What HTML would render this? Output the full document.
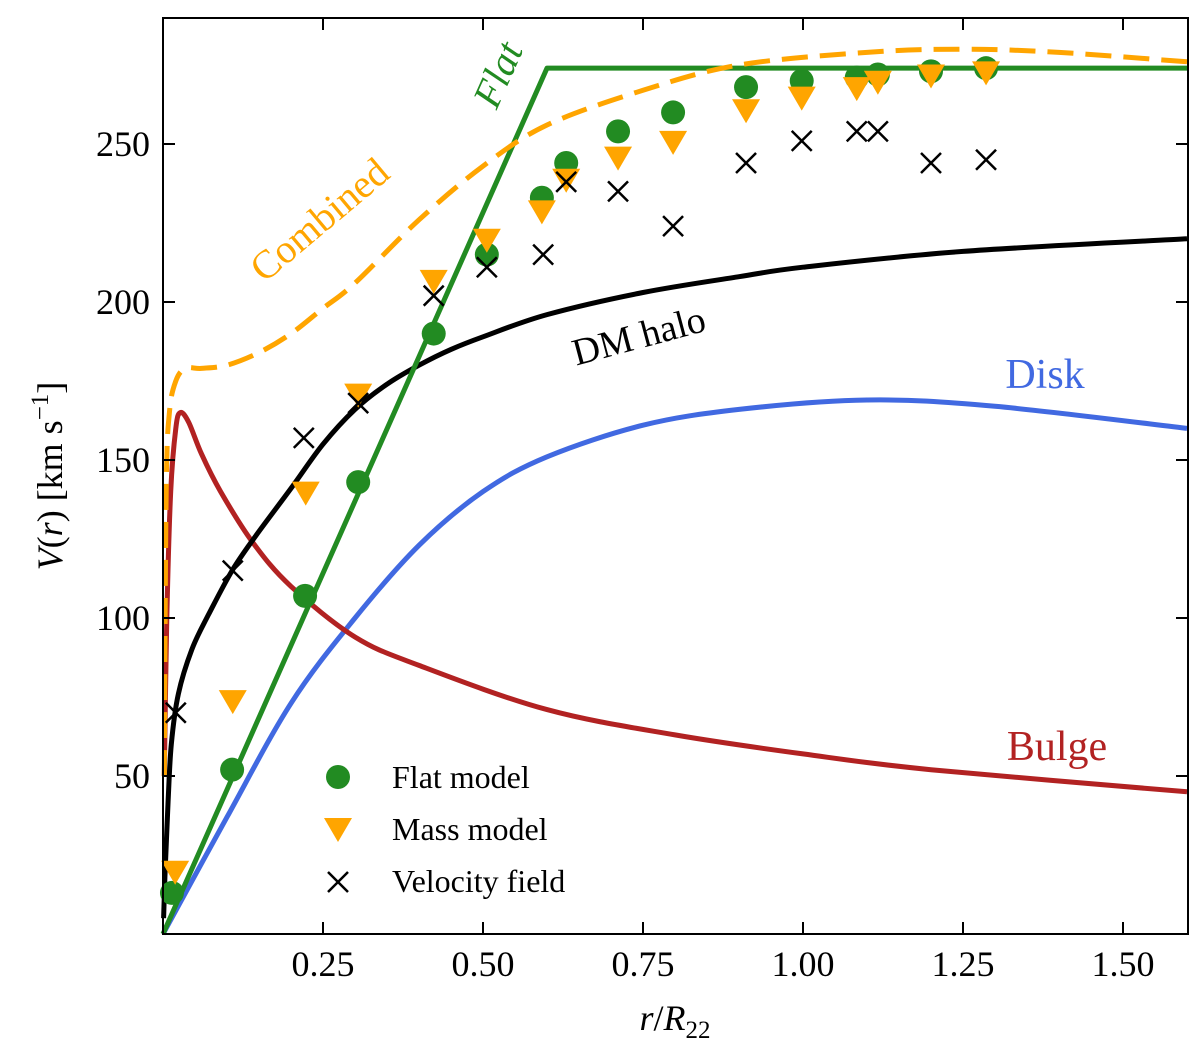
<!DOCTYPE html>
<html><head><meta charset="utf-8"><style>
body{margin:0;background:#fff}
svg{display:block;font-family:"Liberation Serif",serif}
</style></head><body>
<svg id="chart" width="1200" height="1044" viewBox="0 0 1200 1044" xmlns="http://www.w3.org/2000/svg">
<g id="curves"></g>
<g id="marks"></g>
<rect x="163" y="18" width="1025" height="916" fill="none" stroke="#000" stroke-width="2"/>
<g id="axes"></g>
<text x="675" y="1030" font-size="36" text-anchor="middle"><tspan font-style="italic">r</tspan>/<tspan font-style="italic">R</tspan><tspan font-size="25" dy="8">22</tspan></text>
<text transform="translate(62,476) rotate(-90)" font-size="36" text-anchor="middle"><tspan font-style="italic">V</tspan>(<tspan font-style="italic">r</tspan>) [km s<tspan font-size="25" dy="-14">−1</tspan><tspan dy="14">]</tspan></text>
<text transform="translate(510,80) rotate(-66)" font-size="40" fill="#228B22" font-style="italic" text-anchor="middle">Flat</text>
<text transform="translate(328,230) rotate(-40)" font-size="40" fill="#FFA500" text-anchor="middle">Combined</text>
<text transform="translate(642,348) rotate(-15)" font-size="38" fill="#000" text-anchor="middle">DM halo</text>
<text x="1045" y="388" font-size="42" fill="#4169E1" text-anchor="middle">Disk</text>
<text x="1057" y="760" font-size="42" fill="#B22222" text-anchor="middle">Bulge</text>
<g font-size="32">
<circle cx="338" cy="777" r="12" fill="#228B22"/>
<text x="392" y="788">Flat model</text>
<polygon points="324,818 352,818 338,842" fill="#FFA500"/>
<text x="392" y="840">Mass model</text>
<path d="M328,872 L348,892 M348,872 L328,892" stroke="#000" stroke-width="2.5"/>
<text x="392" y="892">Velocity field</text>
</g>
</svg>
<script>
const xTicks=[0.25,0.5,0.75,1.0,1.25,1.5];
const xTickLabels=["0.25","0.50","0.75","1.00","1.25","1.50"];
const yTicks=[50,100,150,200,250];
const yTickLabels=["50","100","150","200","250"];
const flatR=[0.014,0.108,0.222,0.305,0.423,0.506,0.592,0.63,0.711,0.797,0.911,0.998,1.084,1.117,1.2,1.286];
const flatV=[13,52,107,143,190,215,233,244,254,260,268,270,271,272,273,274];
const massR=[0.019,0.109,0.223,0.305,0.423,0.506,0.592,0.63,0.711,0.797,0.911,0.998,1.084,1.117,1.2,1.286];
const massV=[20,74,140,171,207,220,229,239,246,251,261,265,268,270,272,273];
const velR=[0.02,0.109,0.22,0.305,0.423,0.506,0.594,0.63,0.711,0.797,0.911,0.998,1.084,1.117,1.2,1.286];
const velV=[70,115,157,168,202,211,215,238,235,224,244,251,254,254,244,245];
const flatLineR=[0,0.6,1.6];
const flatLineV=[0,274,274];
const haloR=[0.001,0.003,0.008,0.013,0.024,0.045,0.071,0.108,0.145,0.2,0.25,0.3,0.35,0.4,0.45,0.5,0.6,0.75,0.9,1.0,1.25,1.6];
const haloV=[5,18,42,60,76,90,101,115,126,141,155,166,174,180,185,189,196,203,208,211,216,220];
const diskR=[0,0.1,0.2,0.3,0.4,0.5,0.6,0.75,0.9,1.1,1.3,1.6];
const diskV=[0,37,73,100,123,140,151,161,166,169,167,160];
const bulgeR=[0.002,0.006,0.012,0.02,0.027,0.04,0.06,0.09,0.14,0.2,0.3,0.4,0.6,0.8,1.0,1.2,1.6];
const bulgeV=[50,100,140,160,165,162,152,140,124,110,94,85,71,63,57,52,45];
const combR=[0.002,0.005,0.01,0.02,0.035,0.06,0.1,0.15,0.2,0.25,0.3,0.4,0.5,0.6,0.75,0.9,1.1,1.25,1.4,1.6];
const combV=[50,140,165,175,179,179,180,184,190,198,206,226,243,256,267,275,279,280,279,276];
const X=r=>163+r*640, Y=v=>934-v*3.16;
const NS="http://www.w3.org/2000/svg";
const mk=(t,a,p)=>{const e=document.createElementNS(NS,t);for(const k in a)e.setAttribute(k,a[k]);p.appendChild(e);return e;};
const curves=document.getElementById('curves'),marks=document.getElementById('marks'),axes=document.getElementById('axes');
function line(R,V,col,name,dash,straight){
 const P=R.map((r,i)=>[X(r),Y(V[i])]);
 let d='M'+P[0][0].toFixed(1)+','+P[0][1].toFixed(1);
 for(let i=0;i<P.length-1;i++){
  if(straight){d+='L'+P[i+1][0]+','+P[i+1][1];continue;}
  const p0=P[i-1]||P[i],p1=P[i],p2=P[i+1],p3=P[i+2]||p2;
  const c1=[p1[0]+(p2[0]-p0[0])/6,p1[1]+(p2[1]-p0[1])/6];
  const c2=[p2[0]-(p3[0]-p1[0])/6,p2[1]-(p3[1]-p1[1])/6];
  d+=`C${c1[0].toFixed(1)},${c1[1].toFixed(1)} ${c2[0].toFixed(1)},${c2[1].toFixed(1)} ${p2[0].toFixed(1)},${p2[1].toFixed(1)}`;
 }
 const p=mk('path',{d:d,fill:'none',stroke:col,'stroke-width':5,'stroke-linejoin':'round'},curves);
 if(dash)p.setAttribute('stroke-dasharray','26,12');
 
 
}
line(diskR,diskV,'#4169E1','disk-curve');
line(bulgeR,bulgeV,'#B22222','bulge-curve');
line(haloR,haloV,'#000','dm-halo-curve');
line(flatLineR,flatLineV,'#228B22','flat-curve',false,true);
line(combR,combV,'#FFA500','combined-curve',true);
flatR.forEach((r,i)=>{const c=mk('circle',{cx:X(r),cy:Y(flatV[i]),r:12,fill:'#228B22'},marks);
 
 });
massR.forEach((r,i)=>{const x=X(r),y=Y(massV[i]);const p=mk('polygon',{points:`${x-14},${y-10} ${x+14},${y-10} ${x},${y+14}`,fill:'#FFA500'},marks);
 
 });
velR.forEach((r,i)=>{const x=X(r),y=Y(velV[i]);const p=mk('path',{d:`M${x-10},${y-10}L${x+10},${y+10}M${x+10},${y-10}L${x-10},${y+10}`,stroke:'#000','stroke-width':2.5},marks);
 
 });
xTicks.forEach((t,i)=>{const x=X(t);
 const a=mk('path',{d:`M${x},934V922M${x},18V30`,stroke:'#000','stroke-width':2},axes);
 
 
 const l=mk('text',{x:x,y:976,'font-size':36,'text-anchor':'middle'},axes);l.textContent=xTickLabels[i];
 
 });
yTicks.forEach((t,i)=>{const y=Y(t);
 const a=mk('path',{d:`M163,${y}H175M1188,${y}H1176`,stroke:'#000','stroke-width':2},axes);
 
 
 const l=mk('text',{x:150,y:y+12,'font-size':36,'text-anchor':'end'},axes);l.textContent=yTickLabels[i];
 
 });
</script>
</body></html>
